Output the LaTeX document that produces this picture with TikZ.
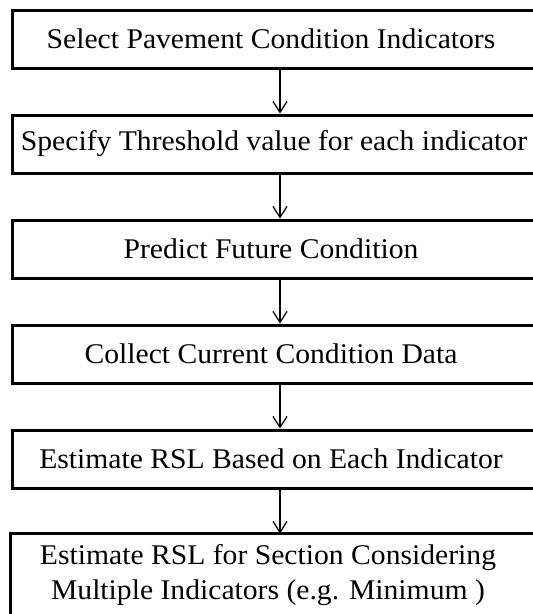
\documentclass[tikz,border=0pt]{standalone}
\usepackage{fontspec}
\setmainfont[FakeStretch=1.04]{Liberation Serif}
\usetikzlibrary{arrows.meta}
\begin{document}
\begin{tikzpicture}[x=1pt,y=-1pt,
  boxline/.style={line width=3pt},
  stepbox/.style={boxline, draw, minimum width=536pt, minimum height=58pt,
    inner sep=0pt},
  steptext/.style={inner sep=0pt, align=center,
    font=\fontsize{28.5}{35}\selectfont},
  flow/.style={line width=1.2pt,
    -{Straight Barb[length=11pt,width=14pt,line width=1.2pt]}}]
\useasboundingbox (0,0) rectangle (533,614);
\clip (0,0) rectangle (533,614);

% process steps, top to bottom
\node[stepbox] (s1) at (280,39)  {};
\node[stepbox] (s2) at (280,144) {};
\node[stepbox] (s3) at (280,249) {};
\node[stepbox] (s4) at (280,354) {};
\node[stepbox] (s5) at (280,459) {};
\node[stepbox, draw=none, minimum height=79pt] (s6) at (280,574.5) {};
% last box runs past the lower edge
\draw[boxline] ([yshift=-30pt]s6.south west) |- (s6.north east)
  -- ([yshift=-30pt]s6.south east);

% step texts
\node[steptext] (t1) at (271,39)  {Select Pavement Condition Indicators};
\node[steptext] (t2) at (274,144) {Specify Threshold value for each indicator};
\node[steptext] (t3) at (271,249) {Predict Future Condition};
\node[steptext] (t4) at (271,354) {Collect Current Condition Data};
\node[steptext] (t5) at (271,459) {Estimate RSL Based on Each Indicator};
\node[steptext] (t6) at (268,575)
  {Estimate RSL for Section Considering\\Multiple Indicators (e.g. Minimum )};

% connectors
\draw[flow] (s1) -- (s2);
\draw[flow] (s2) -- (s3);
\draw[flow] (s3) -- (s4);
\draw[flow] (s4) -- (s5);
\draw[flow] (s5) -- (s6);
\end{tikzpicture}
\end{document}
